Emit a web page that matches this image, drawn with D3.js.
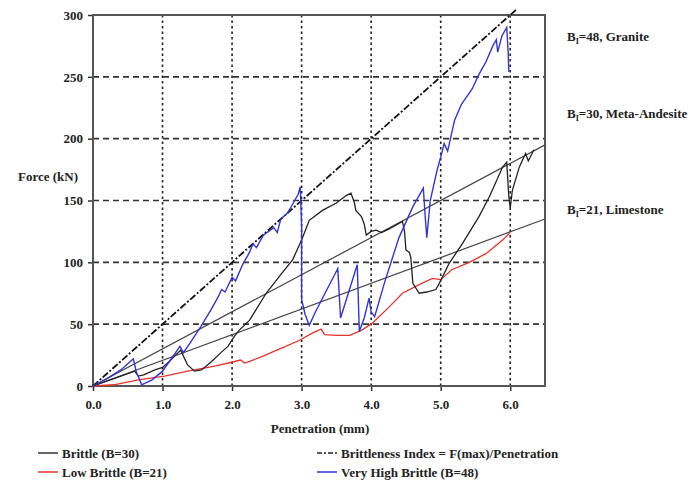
<!DOCTYPE html>
<html>
<head>
<meta charset="utf-8">
<script src="https://cdn.jsdelivr.net/npm/d3@7"></script>
<style>
  body { margin: 0; background: #fff; }
  text { font-family: "Liberation Serif", "DejaVu Serif", serif; font-weight: bold; fill: #222; }
</style>
</head>
<body>
<div id="chart"></div>
<script>
// Penetration (mm) vs force (kN)
const veryHighBrittle = [
  [0,0],[0.2,6],[0.4,13],[0.58,22],[0.62,12],[0.7,1],[0.85,5],[1.0,12],[1.1,20],[1.2,28],[1.25,32],
  [1.3,27],[1.4,35],[1.55,48],[1.7,62],[1.8,72],[1.85,78],[1.9,76],[2.0,88],[2.05,85],[2.15,98],
  [2.25,108],[2.3,115],[2.35,112],[2.45,122],[2.55,126],[2.6,128],[2.65,124],[2.7,135],[2.8,140],
  [2.88,148],[2.95,155],[2.98,161],[3.0,130],[3.0,70],[3.05,58],[3.11,49],[3.2,60],[3.52,95],
  [3.56,55],[3.8,98],[3.83,44],[3.9,55],[3.97,71],[4.0,60],[4.05,56],[4.2,85],[4.4,120],[4.6,145],
  [4.75,160],[4.78,135],[4.8,120],[4.85,150],[4.95,175],[5.0,185],[5.05,196],[5.1,190],[5.2,215],
  [5.3,228],[5.35,232],[5.45,240],[5.55,252],[5.65,262],[5.75,275],[5.8,280],[5.82,270],[5.88,283],
  [5.95,290],[5.97,270],[5.98,254]
];
const brittle = [
  [0,0],[0.3,6],[0.6,12],[0.65,8],[0.73,9],[0.89,13],[1.0,15],[1.1,20],[1.26,29],[1.36,17],[1.46,12],
  [1.56,13],[1.69,19],[1.84,27],[1.94,32],[2.03,40],[2.1,45],[2.25,53],[2.49,75],[2.7,90],[2.87,102],
  [3.0,118],[3.11,134],[3.3,142],[3.5,148],[3.64,154],[3.71,156],[3.76,148],[3.78,142],[3.86,137],
  [3.9,131],[3.93,122],[4.0,125],[4.07,126],[4.15,124],[4.26,127],[4.45,133],[4.48,125],[4.5,110],
  [4.55,108],[4.57,104],[4.6,83],[4.69,75],[4.8,76],[4.93,78],[4.98,83],[5.12,99],[5.31,115],
  [5.55,137],[5.7,153],[5.89,177],[5.95,181],[5.98,153],[6.0,144],[6.03,158],[6.13,177],[6.22,188],
  [6.26,182],[6.34,191]
];
const lowBrittle = [
  [0,0],[0.3,1],[0.65,5],[1.03,8],[1.36,12],[1.75,16],[1.98,19],[2.12,21],[2.18,18.5],[2.3,21],
  [2.44,24],[2.6,28],[2.73,31],[2.97,37],[3.16,43],[3.28,46],[3.33,41.5],[3.5,41],[3.69,41],
  [3.86,45],[4.02,51],[4.26,64],[4.45,75],[4.69,82],[4.88,87],[5.0,86],[5.16,94],[5.41,100],
  [5.65,107],[5.89,118],[6.0,124]
];
// brittleness index lines F(max)/Penetration
const indexLines = [
  { name: "Granite", value: 48, end: [6.1, 305] },
  { name: "Meta-Andesite", value: 30, end: [6.5, 195] },
  { name: "Limestone", value: 21, end: [6.5, 135] }
];
const xTicks = [0, 1, 2, 3, 4, 5, 6];
const yTicks = [0, 50, 100, 150, 200, 250, 300];

const width = 691, height = 484;
const x = d3.scaleLinear().domain([0, 6.5]).range([93, 545]);
const y = d3.scaleLinear().domain([0, 300]).range([386, 15]);

const svg = d3.select("#chart").append("svg")
  .attr("width", width)
  .attr("height", height);

// grid
svg.append("g").selectAll("line")
  .data(xTicks.slice(1))
  .join("line")
  .attr("x1", d => x(d)).attr("x2", d => x(d))
  .attr("y1", y(300)).attr("y2", y(0))
  .attr("stroke", "#222").attr("stroke-width", 1.6)
  .attr("stroke-dasharray", "2.5,3");
svg.append("g").selectAll("line")
  .data(yTicks.slice(1, -1))
  .join("line")
  .attr("x1", x(0)).attr("x2", x(6.5))
  .attr("y1", d => y(d)).attr("y2", d => y(d))
  .attr("stroke", "#333").attr("stroke-width", 1.6)
  .attr("stroke-dasharray", "6,4");

// axes
svg.append("g")
  .attr("transform", `translate(0,${y(0)})`)
  .call(d3.axisBottom(x).tickValues(xTicks).tickFormat(d3.format(".1f")).tickSize(5).tickPadding(9))
  .call(g => g.select(".domain").remove())
  .call(g => g.selectAll("line").attr("stroke", "#333").attr("stroke-width", 1.5))
  .call(g => g.selectAll("text").attr("font-size", 13).attr("font-family", null));
svg.append("g")
  .attr("transform", `translate(${x(0)},0)`)
  .call(d3.axisLeft(y).tickValues(yTicks).tickSize(5).tickPadding(5))
  .call(g => g.select(".domain").remove())
  .call(g => g.selectAll("line").attr("stroke", "#333").attr("stroke-width", 1.5))
  .call(g => g.selectAll("text").attr("font-size", 13).attr("font-family", null));

// frame
svg.append("rect")
  .attr("x", x(0)).attr("y", y(300))
  .attr("width", x(6.5) - x(0)).attr("height", y(0) - y(300))
  .attr("fill", "none").attr("stroke", "#555").attr("stroke-width", 2);

const line = d3.line().x(d => x(d[0])).y(d => y(d[1]));

// index lines
svg.append("g").selectAll("path")
  .data(indexLines)
  .join("path")
  .attr("d", d => line([[0, 0], d.end]))
  .attr("fill", "none")
  .attr("stroke", (d, i) => i === 0 ? "#111" : "#444")
  .attr("stroke-width", (d, i) => i === 0 ? 1.8 : 1.2)
  .attr("stroke-dasharray", (d, i) => i === 0 ? "7,2,2,2" : null);

svg.append("path").datum(lowBrittle).attr("d", line)
  .attr("fill", "none").attr("stroke", "#e8332a").attr("stroke-width", 1.3);
svg.append("path").datum(brittle).attr("d", line)
  .attr("fill", "none").attr("stroke", "#222").attr("stroke-width", 1.3);
svg.append("path").datum(veryHighBrittle).attr("d", line)
  .attr("fill", "none").attr("stroke", "#3434d6").attr("stroke-width", 1.4);

// axis titles
svg.append("text").attr("x", 48).attr("y", 181).attr("text-anchor", "middle")
  .attr("font-size", 13).text("Force (kN)");
svg.append("text").attr("x", 320).attr("y", 433).attr("text-anchor", "middle")
  .attr("font-size", 13).text("Penetration (mm)");

// annotations on the right
const notes = [
  { value: 48, name: "Granite", y: 41 },
  { value: 30, name: "Meta-Andesite", y: 118 },
  { value: 21, name: "Limestone", y: 214 }
];
notes.forEach(n => {
  const t = svg.append("text").attr("x", 567).attr("y", n.y).attr("font-size", 13);
  t.append("tspan").text("B");
  t.append("tspan").attr("font-size", 8).attr("dy", 3).text("I");
  t.append("tspan").attr("dy", -3).text(`=${n.value}, ${n.name}`);
});

// legend
const legend = [
  { label: "Brittle (B=30)", color: "#333", dash: null, x: 38, y: 453 },
  { label: "Low Brittle (B=21)", color: "#e8332a", dash: null, x: 38, y: 472 },
  { label: "Brittleness Index = F(max)/Penetration", color: "#222", dash: "5,2,2,2", x: 317, y: 453 },
  { label: "Very High Brittle (B=48)", color: "#3434d6", dash: null, x: 317, y: 472 }
];
const lg = svg.append("g").selectAll("g").data(legend).join("g")
  .attr("transform", d => `translate(${d.x},${d.y})`);
lg.append("line").attr("x1", 0).attr("x2", 20).attr("y1", 0).attr("y2", 0)
  .attr("stroke", d => d.color).attr("stroke-width", 1.5)
  .attr("stroke-dasharray", d => d.dash);
lg.append("text").attr("x", 24).attr("y", 4.5).attr("font-size", 13).text(d => d.label);
</script>
</body>
</html>
